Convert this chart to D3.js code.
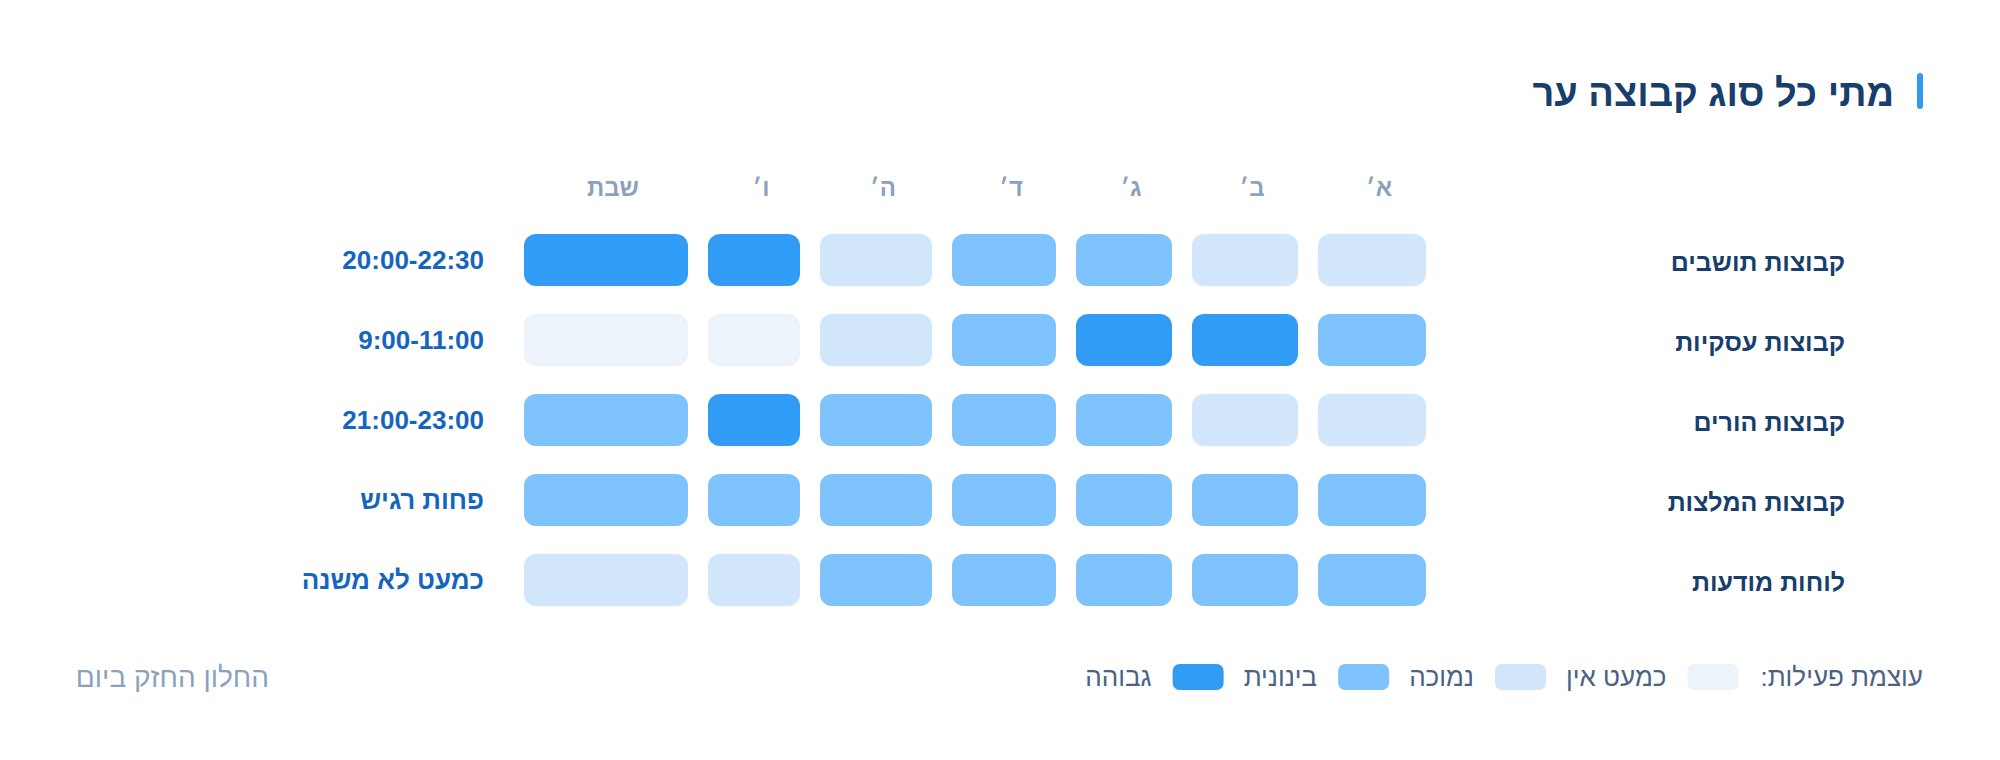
<!DOCTYPE html>
<html lang="he">
<head>
<meta charset="utf-8">
<script src="https://cdn.jsdelivr.net/npm/d3@7"></script>
<style>
  html, body { margin: 0; padding: 0; background: #ffffff; }
  svg { display: block; font-family: "Liberation Sans", Arial, sans-serif; }
</style>
</head>
<body>
<svg id="chart" width="2000" height="760"></svg>
<script>
// ---- data ----
const title = "מתי כל סוג קבוצה ער";
const days = ["א׳", "ב׳", "ג׳", "ד׳", "ה׳", "ו׳", "שבת"];
const groups = ["קבוצות תושבים", "קבוצות עסקיות", "קבוצות הורים", "קבוצות המלצות", "לוחות מודעות"];
const windows = ["20:00-22:30", "9:00-11:00", "21:00-23:00", "פחות רגיש", "כמעט לא משנה"];
const levelNames = ["כמעט אין", "נמוכה", "בינונית", "גבוהה"];
const legendTitle = "עוצמת פעילות:";
const footNote = "החלון החזק ביום";
// activity level 0..3 per group, days in order א׳..שבת
const residents  = [1, 1, 2, 2, 1, 3, 3];
const business   = [2, 3, 3, 2, 1, 0, 0];
const parents    = [1, 1, 2, 2, 2, 3, 2];
const recommends = [2, 2, 2, 2, 2, 2, 2];
const boards     = [2, 2, 2, 2, 2, 1, 1];
const matrix = [residents, business, parents, recommends, boards];

// ---- layout / style ----
const colWidths = [108, 106, 96, 104, 112, 92, 164]; // per day, right to left
const colGap = 20;
const gridRight = 1426;
const colors = ["#edf3fa", "#d1e6fa", "#7fc3fd", "#319cf5"];

const svg = d3.select("#chart");

// x positions (RTL: first day on the right)
const xRight = {};
let cur = gridRight;
days.forEach((d, i) => { xRight[d] = cur; cur -= colWidths[i] + colGap; });
const xLeft = d => xRight[d] - colWidths[days.indexOf(d)];

const y = d3.scaleBand().domain(groups).range([234, 606]).paddingInner(0.35).paddingOuter(0);
const color = d3.scaleOrdinal().domain([0, 1, 2, 3]).range(colors);

// title
svg.append("rect").attr("x", 1917).attr("y", 73).attr("width", 6).attr("height", 36).attr("rx", 3).attr("fill", "#3399f0");
svg.append("text").attr("x", 1894).attr("y", 93).attr("direction", "rtl").attr("text-anchor", "start").attr("dominant-baseline", "central")
  .attr("font-size", 38).attr("font-weight", 700).attr("fill", "#173e6c").text(title);

// column headers
svg.append("g").selectAll("text").data(days).join("text")
  .attr("x", d => (xLeft(d) + xRight[d]) / 2 + 7)
  .attr("y", 187)
  .attr("text-anchor", "middle").attr("dominant-baseline", "central")
  .attr("font-size", 24).attr("font-weight", 700).attr("fill", "#8aa2bd")
  .text(d => d);

// cells
const cells = [];
matrix.forEach((row, r) => row.forEach((v, c) => cells.push({ g: groups[r], d: days[c], v })));
svg.append("g").selectAll("rect").data(cells).join("rect")
  .attr("x", d => xLeft(d.d))
  .attr("y", d => y(d.g))
  .attr("width", d => colWidths[days.indexOf(d.d)])
  .attr("height", y.bandwidth())
  .attr("rx", 12).attr("ry", 12)
  .attr("fill", d => color(d.v));

// row labels (right)
svg.append("g").selectAll("text").data(groups).join("text")
  .attr("x", 1845)
  .attr("y", d => y(d) + y.bandwidth() / 2 + 2)
  .attr("direction", "rtl").attr("text-anchor", "start").attr("dominant-baseline", "central")
  .attr("font-size", 25).attr("font-weight", 700).attr("fill", "#173e6c")
  .text(d => d);

// time window labels (left)
svg.append("g").selectAll("text").data(windows).join("text")
  .attr("x", 484)
  .attr("y", (d, i) => y(groups[i]) + y.bandwidth() / 2)
  .attr("text-anchor", "end").attr("dominant-baseline", "central")
  .attr("font-size", 26).attr("font-weight", 700).attr("fill", "#1565c0")
  .text(d => d);

// legend (RTL)
const lg = svg.append("g");
const legendY = 677;
let lx = 1923;
const lt = lg.append("text").attr("x", lx).attr("y", legendY).attr("direction", "rtl").attr("text-anchor", "start").attr("dominant-baseline", "central")
  .attr("font-size", 26).attr("fill", "#4a6283").text(legendTitle);
lx -= lt.node().getComputedTextLength() + 22;
levelNames.forEach((name, i) => {
  lg.append("rect").attr("x", lx - 51).attr("y", legendY - 13).attr("width", 51).attr("height", 26)
    .attr("rx", 7).attr("fill", colors[i]);
  lx -= 51 + 21;
  const t = lg.append("text").attr("x", lx).attr("y", legendY).attr("direction", "rtl").attr("text-anchor", "start").attr("dominant-baseline", "central")
    .attr("font-size", 26).attr("fill", "#4a6283").text(name);
  lx -= t.node().getComputedTextLength() + 20;
});

// footnote (left)
svg.append("text").attr("x", 269).attr("y", legendY).attr("direction", "rtl").attr("text-anchor", "start").attr("dominant-baseline", "central")
  .attr("font-size", 28).attr("fill", "#8aa2bd").text(footNote);
</script>
</body>
</html>
